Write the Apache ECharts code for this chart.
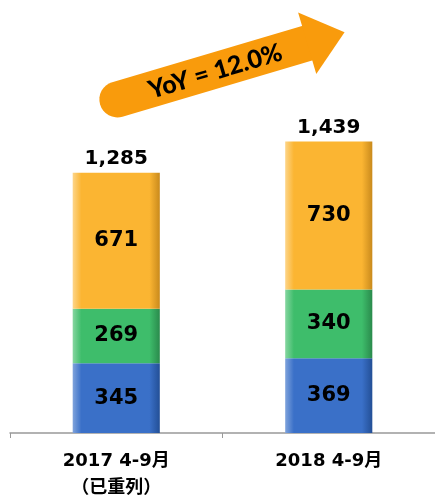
<!DOCTYPE html>
<html>
<head>
  <meta charset="utf-8">
  <title>Sales chart</title>
  <script src="https://cdn.jsdelivr.net/npm/echarts@6.0.0/dist/echarts.min.js"></script>
  <style>
    html, body { margin: 0; padding: 0; background: #fff; }
  </style>
</head>
<body>
  <div id="main" style="width:435px; height:495px;"></div>
  <script type="text/javascript">
    const categories = ['2017 4-9月\n（已重列）', '2018 4-9月'];
    const bottomVals = [345, 369];
    const middleVals = [269, 340];
    const topVals = [671, 730];
    const totals = [1285, 1439];
    const yoyText = 'YoY = 12.0%';

    const shade = (light, base, dark) => ({
      type: 'linear', x: 0, y: 0, x2: 1, y2: 0,
      colorStops: [
        { offset: 0, color: light },
        { offset: 0.1, color: base },
        { offset: 0.88, color: base },
        { offset: 1, color: dark }
      ]
    });

    const labelFont = {
      show: true,
      position: 'inside',
      color: '#000',
      fontFamily: 'DejaVu Sans',
      fontWeight: 'bold',
      fontSize: 21
    };

    const myChart = echarts.init(document.getElementById('main'));

    const option = {
      animation: false,
      grid: { left: 10, right: 0, top: 28, bottom: 62, outerBoundsMode: 'none' },
      xAxis: {
        type: 'category',
        data: categories,
        axisLine: { lineStyle: { color: '#999', width: 1.5 } },
        axisTick: { show: true, length: 5, lineStyle: { color: '#999' } },
        axisLabel: {
          color: '#000',
          fontFamily: 'DejaVu Sans, Noto Sans CJK SC',
          fontWeight: 'bold',
          fontSize: 18,
          lineHeight: 25,
          margin: 16,
          // second line uses a CJK font so the full-width brackets keep their width
          formatter: (v) => v.split('\n').map((s, i) => i ? '{cjk|' + s + '}' : s).join('\n'),
          rich: {
            cjk: {
              fontFamily: 'Noto Sans CJK JP',
              fontWeight: 'bold',
              fontSize: 18,
              lineHeight: 25,
              color: '#000'
            }
          }
        }
      },
      yAxis: {
        type: 'value',
        min: 0,
        max: 2000,
        show: false,
        splitLine: { show: false }
      },
      series: [
        {
          type: 'bar',
          stack: 'total',
          data: bottomVals,
          barWidth: '41%',
          itemStyle: { color: shade('#7fa3dc', '#3a70c8', '#234f96') },
          label: labelFont
        },
        {
          type: 'bar',
          stack: 'total',
          data: middleVals,
          itemStyle: { color: shade('#86d6a0', '#3ebd6b', '#2a8a4c') },
          label: labelFont
        },
        {
          type: 'bar',
          stack: 'total',
          data: topVals,
          itemStyle: { color: shade('#fdd589', '#fbb532', '#c98a1c') },
          label: labelFont
        },
        {
          // invisible series carrying the totals above each bar
          type: 'bar',
          stack: 'total',
          data: totals.map(() => 0),
          itemStyle: { color: 'transparent' },
          label: {
            show: true,
            position: 'top',
            distance: 4,
            color: '#000',
            fontFamily: 'DejaVu Sans',
            fontWeight: 'bold',
            fontSize: 20,
            formatter: (p) => totals[p.dataIndex].toLocaleString('en-US')
          }
        }
      ],
      graphic: [
        {
          type: 'group',
          x: 102,
          y: 104,
          rotation: 0.288,
          children: [
            {
              type: 'rect',
              shape: { x: -2, y: -18, width: 222, height: 36, r: [18, 0, 0, 18] },
              style: { fill: '#f99b0c' }
            },
            {
              type: 'polygon',
              shape: { points: [[214, -32], [253, 0], [214, 32]] },
              style: { fill: '#f99b0c' }
            },
            {
              type: 'text',
              x: 118,
              y: 1,
              style: {
                text: yoyText,
                fill: '#000',
                fontFamily: 'Lato',
                fontWeight: 900,
                fontSize: 25,
                align: 'center',
                verticalAlign: 'middle'
              }
            }
          ]
        }
      ]
    };

    myChart.setOption(option);
  </script>
</body>
</html>
